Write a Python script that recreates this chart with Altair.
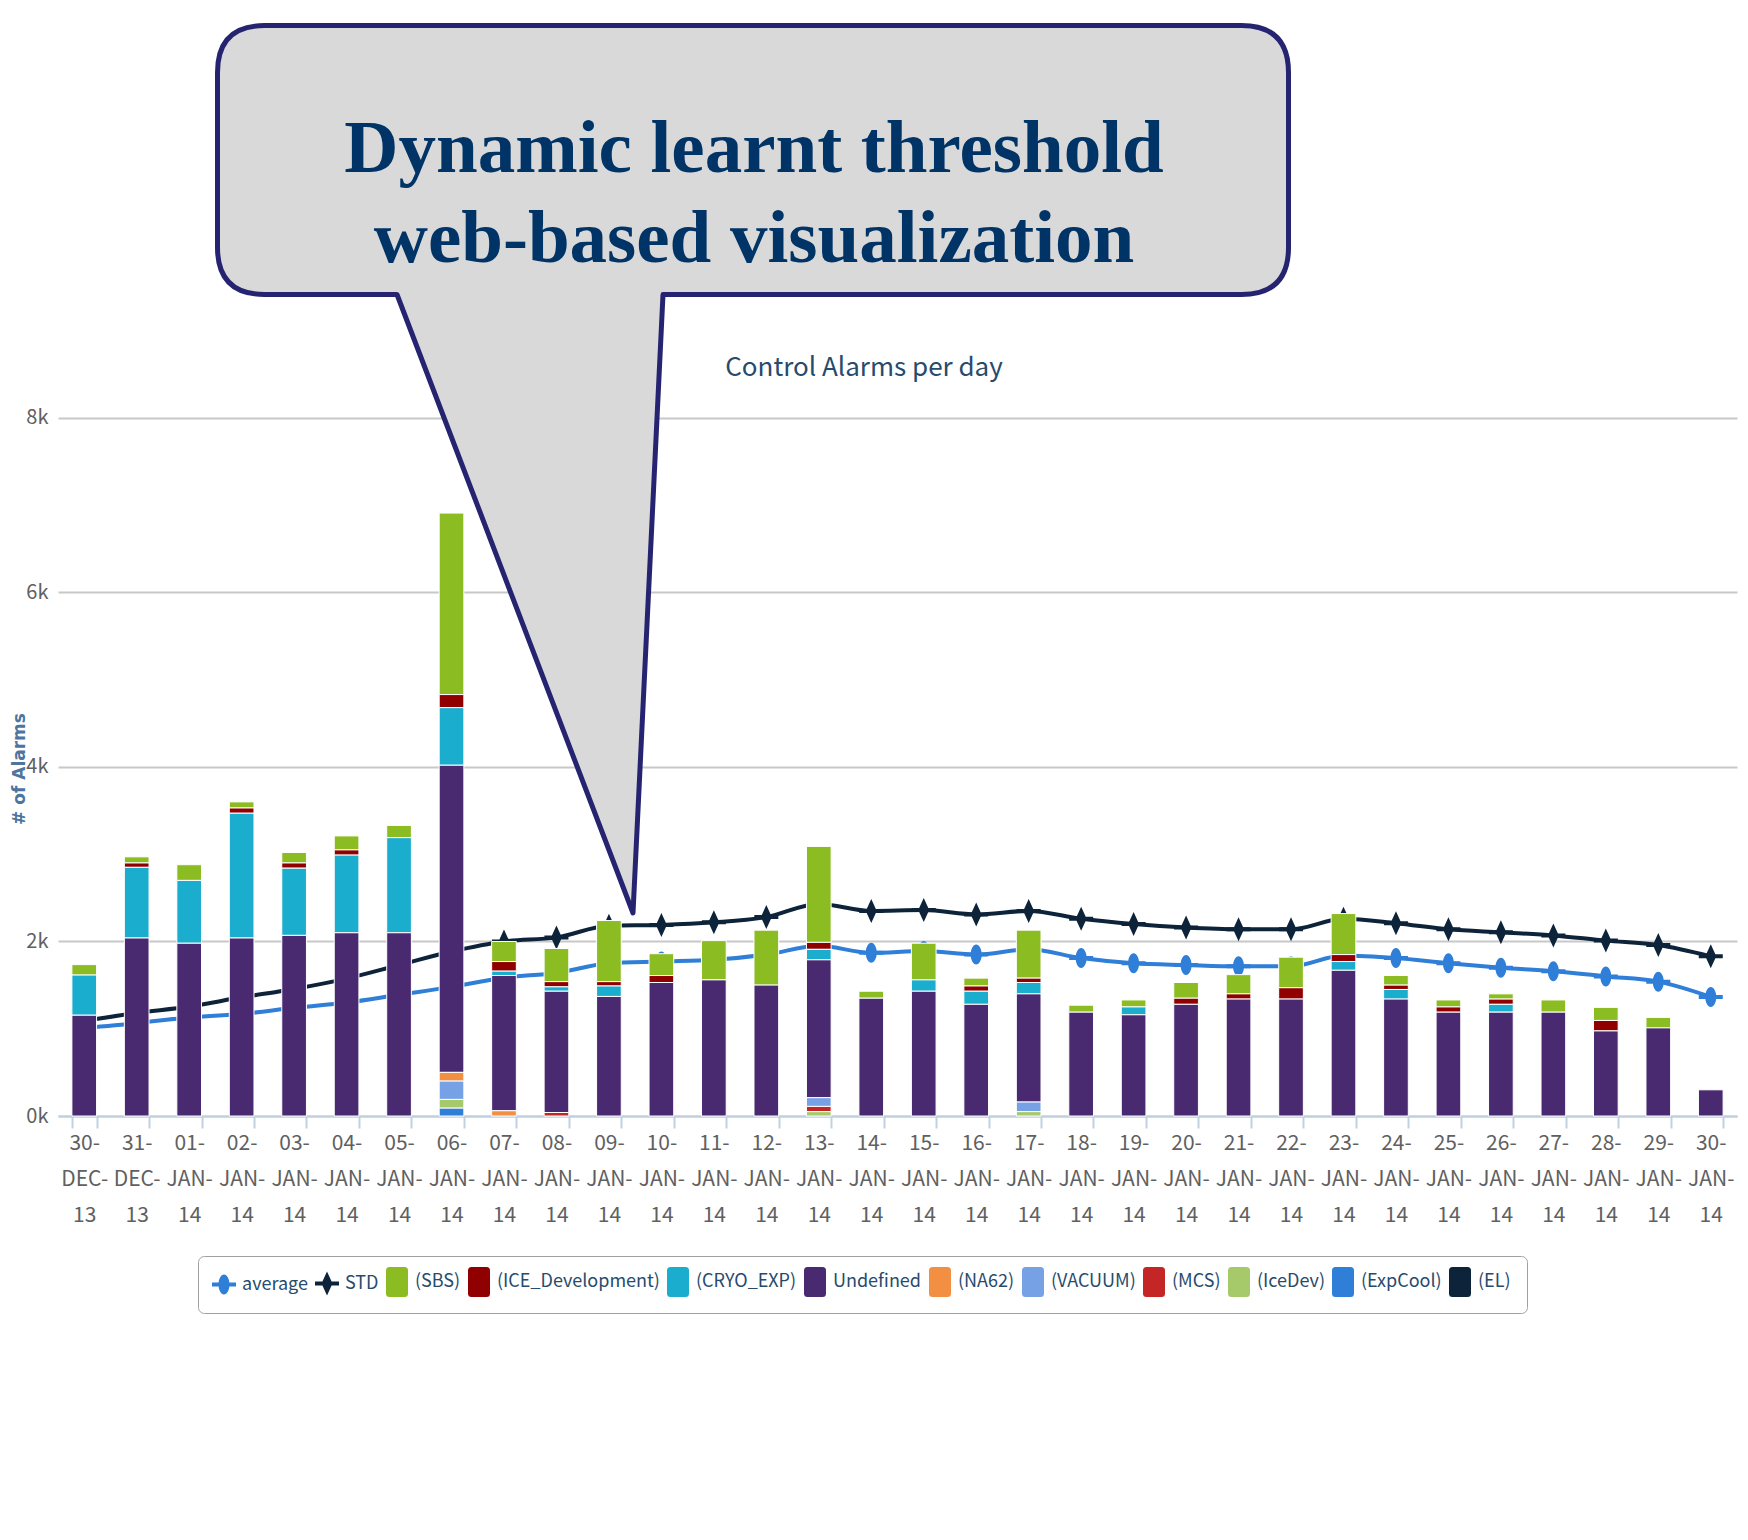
import altair as alt
import pandas as pd

# ---------------- data ----------------
categories = ["30-DEC-13", "31-DEC-13", "01-JAN-14", "02-JAN-14", "03-JAN-14", "04-JAN-14",
              "05-JAN-14", "06-JAN-14", "07-JAN-14", "08-JAN-14", "09-JAN-14", "10-JAN-14",
              "11-JAN-14", "12-JAN-14", "13-JAN-14", "14-JAN-14", "15-JAN-14", "16-JAN-14",
              "17-JAN-14", "18-JAN-14", "19-JAN-14", "20-JAN-14", "21-JAN-14", "22-JAN-14",
              "23-JAN-14", "24-JAN-14", "25-JAN-14", "26-JAN-14", "27-JAN-14", "28-JAN-14",
              "29-JAN-14", "30-JAN-14"]

sbs = [120, 70, 180, 70, 120, 160, 140, 2080, 230, 380, 700, 250, 450, 630, 1100, 80,
       420, 90, 550, 80, 80, 180, 220, 350, 470, 110, 80, 60, 140, 150, 120, 0]
ice_dev = [0, 50, 0, 60, 60, 60, 0, 150, 110, 60, 50, 80, 0, 0, 80, 0,
           0, 60, 50, 0, 0, 70, 60, 130, 80, 50, 60, 60, 0, 120, 0, 0]
cryo = [460, 810, 720, 1430, 770, 890, 1090, 660, 50, 50, 120, 0, 0, 0, 120, 0,
        130, 150, 130, 0, 90, 0, 0, 0, 100, 110, 0, 90, 0, 0, 0, 0]
undefined = [1155, 2040, 1980, 2040, 2070, 2100, 2100, 3520, 1550, 1390, 1370, 1530, 1560, 1500, 1580, 1350,
             1430, 1280, 1240, 1190, 1160, 1280, 1340, 1340, 1670, 1340, 1190, 1190, 1190, 975, 1010, 300]
na62 = [0, 0, 0, 0, 0, 0, 0, 100, 60, 0, 0, 0, 0, 0, 0, 0,
        0, 0, 0, 0, 0, 0, 0, 0, 0, 0, 0, 0, 0, 0, 0, 0]
vacuum = [0, 0, 0, 0, 0, 0, 0, 210, 0, 0, 0, 0, 0, 0, 100, 0,
          0, 0, 110, 0, 0, 0, 0, 0, 0, 0, 0, 0, 0, 0, 0, 0]
mcs = [0, 0, 0, 0, 0, 0, 0, 0, 0, 40, 0, 0, 0, 0, 60, 0,
       0, 0, 0, 0, 0, 0, 0, 0, 0, 0, 0, 0, 0, 0, 0, 0]
icedev = [0, 0, 0, 0, 0, 0, 0, 100, 0, 0, 0, 0, 0, 0, 50, 0,
          0, 0, 50, 0, 0, 0, 0, 0, 0, 0, 0, 0, 0, 0, 0, 0]
expcool = [0, 0, 0, 0, 0, 0, 0, 90, 0, 0, 0, 0, 0, 0, 0, 0,
           0, 0, 0, 0, 0, 0, 0, 0, 0, 0, 0, 0, 0, 0, 0, 0]
el = [0] * 32

average = [1010, 1064, 1130, 1170, 1240, 1300, 1390, 1480, 1585, 1640, 1750, 1770, 1790, 1850, 1950, 1870,
           1890, 1850, 1910, 1810, 1750, 1730, 1715, 1715, 1840, 1810, 1750, 1700, 1660, 1600, 1540, 1365]
std = [1090, 1180, 1255, 1360, 1456, 1575, 1730, 1885, 2000, 2047, 2180, 2190, 2220, 2280, 2430, 2350,
       2360, 2310, 2350, 2260, 2200, 2160, 2140, 2140, 2260, 2210, 2140, 2105, 2070, 2010, 1960, 1830]

legend_names = ["average", "STD", "(SBS)", "(ICE_Development)", "(CRYO_EXP)", "Undefined", "(NA62)",
                "(VACUUM)", "(MCS)", "(IceDev)", "(ExpCool)", "(EL)"]
legend_colors = ["#2f7ed8", "#0d233a", "#8bbc21", "#910000", "#1aadce", "#492970", "#f28f43",
                 "#77a1e5", "#c42525", "#a6c96a", "#2f7ed8", "#0d233a"]
y_ticks = [0, 2000, 4000, 6000, 8000]

# --------------- build tables ---------------
bar_series = [("(SBS)", sbs), ("(ICE_Development)", ice_dev), ("(CRYO_EXP)", cryo),
              ("Undefined", undefined), ("(NA62)", na62), ("(VACUUM)", vacuum), ("(MCS)", mcs),
              ("(IceDev)", icedev), ("(ExpCool)", expcool), ("(EL)", el)]
rows = []
n_bar = len(bar_series)
for k, (name, vals) in enumerate(bar_series):
    for d, v in zip(categories, vals):
        if v > 0:
            rows.append({"date": d, "series": name, "value": v, "stack": n_bar - k})
bars_df = pd.DataFrame(rows)

line_rows = []
for name, vals in [("average", average), ("STD", std)]:
    for d, v in zip(categories, vals):
        line_rows.append({"date": d, "series": name, "value": v})
lines_df = pd.DataFrame(line_rows)

# --------------- styling ---------------
NARROW = "Noto Sans CJK SC"
PLOT_W, PLOT_H = 1679, 1100
Y_MAX = 12607

bar_sym = ("M-0.75,-1.5L0.75,-1.5Q1.1,-1.5 1.1,-1.15L1.1,1.15Q1.1,1.5 0.75,1.5"
           "L-0.75,1.5Q-1.1,1.5 -1.1,1.15L-1.1,-1.15Q-1.1,-1.5 -0.75,-1.5Z")
hbar = "M-1.2,-0.2L1.2,-0.2L1.2,0.2L-1.2,0.2Z"
avg_sym = hbar + "M0,-1A0.55,1 0 1,1 0,1A0.55,1 0 1,1 0,-1Z"
std_sym = hbar + "M0,-1.2L0.55,0L0,1.2L-0.55,0Z"
legend_shapes = [avg_sym, std_sym] + [bar_sym] * 10

x_scale = alt.Scale(paddingInner=0.53, paddingOuter=0.265)
x_axis = alt.Axis(title=None, labelAngle=0, labelFont=NARROW, labelFontSize=21, labelColor="#606060",
                  labelLineHeight=36, tickBand="extent", tickSize=12, tickColor="#C0D0E0", tickWidth=2,
                  domainColor="#C0D0E0", domainWidth=2, labelPadding=4, grid=False, labelOverlap=False,
                  labelExpr="indexof(datum.label + '', '-') > 0 ? [split(datum.label,'-')[0] + '-', "
                            "split(datum.label,'-')[1] + '-', split(datum.label,'-')[2]] : ''")
y_scale = alt.Scale(domain=[0, Y_MAX], nice=False, zero=True)
y_axis = alt.Axis(title=None, values=y_ticks, labelExpr="datum.value / 1000 + 'k'", labelFont=NARROW,
                  labelFontSize=20, labelColor="#606060", ticks=False, domain=False, labelPadding=10,
                  grid=True, gridColor="#c8c8c8", gridWidth=2)

legend = alt.Legend(title=None, orient="none", legendX=140, legendY=1240, direction="horizontal",
                    columns=12, symbolSize=400, symbolStrokeWidth=0, symbolOpacity=1,
                    labelFont=NARROW, labelFontSize=18, labelColor="#274b6d", labelOffset=8,
                    columnPadding=7, padding=16, fillColor="white", strokeColor="#a0a0a0",
                    cornerRadius=6, labelLimit=0)
color_enc = alt.Color("series:N", scale=alt.Scale(domain=legend_names, range=legend_colors), legend=legend)
shape_enc = alt.Shape("series:N", scale=alt.Scale(domain=legend_names, range=legend_shapes), legend=legend)

X = alt.X("date:N", sort=categories, scale=x_scale, axis=x_axis)
Y = alt.Y("value:Q", scale=y_scale, axis=y_axis)

base_lines = alt.Chart(lines_df)
avg_line = base_lines.transform_filter(alt.datum.series == "average").mark_line(
    interpolate="monotone", strokeWidth=4, color="#2f7ed8").encode(x=X, y=Y)
std_line = base_lines.transform_filter(alt.datum.series == "STD").mark_line(
    interpolate="monotone", strokeWidth=4, color="#0d233a").encode(x=X, y=Y)
markers = base_lines.mark_point(filled=True, size=400, opacity=1, strokeWidth=0).encode(
    x=X, y=Y, color=color_enc, shape=shape_enc)

bars = alt.Chart(bars_df).mark_bar(stroke="white", strokeWidth=1).encode(
    x=X, y=alt.Y("value:Q", stack="zero", scale=y_scale, axis=y_axis),
    color=color_enc, order=alt.Order("stack:Q", sort="ascending"))

# --------------- annotation callout ---------------
one = pd.DataFrame({"k": [0]})
bx_l, bx_t, bx_r, bx_b, rad = 159.5, 9.5, 1230.5, 278.5, 47
tail_l, tail_r, tip_x, tip_y = 339, 605, 575, 897
callout_path = (
    f"M{bx_l + rad},{bx_t}L{bx_r - rad},{bx_t}Q{bx_r},{bx_t} {bx_r},{bx_t + rad}"
    f"L{bx_r},{bx_b - rad}Q{bx_r},{bx_b} {bx_r - rad},{bx_b}"
    f"L{tail_r},{bx_b}L{tip_x},{tip_y}L{tail_l},{bx_b}"
    f"L{bx_l + rad},{bx_b}Q{bx_l},{bx_b} {bx_l},{bx_b - rad}"
    f"L{bx_l},{bx_t + rad}Q{bx_l},{bx_t} {bx_l + rad},{bx_t}Z"
)
callout = alt.Chart(one).mark_point(
    shape=callout_path, size=4, filled=True, fill="#d9d9d9", stroke="#262470",
    strokeWidth=5, strokeJoin="round", opacity=1, fillOpacity=1, strokeOpacity=1
).encode(x=alt.value(0), y=alt.value(0))

callout_l1 = alt.Chart(one).mark_text(
    text="Dynamic learnt threshold", font="Liberation Serif", fontWeight="bold", fontSize=75,
    color="#003366", align="center", baseline="alphabetic").encode(x=alt.value(696), y=alt.value(156))
callout_l2 = alt.Chart(one).mark_text(
    text="web-based visualization", font="Liberation Serif", fontWeight="bold", fontSize=75,
    color="#003366", align="center", baseline="alphabetic").encode(x=alt.value(696), y=alt.value(246))

title_txt = alt.Chart(one).mark_text(
    text="Control Alarms per day", font=NARROW, fontSize=26, color="#274b6d",
    align="center", baseline="alphabetic").encode(x=alt.value(806), y=alt.value(360))
ytitle = alt.Chart(one).mark_text(
    text="# of Alarms", font="DejaVu Sans", fontWeight="bold", fontSize=17, color="#4d759e",
    align="center", baseline="middle", angle=270).encode(x=alt.value(-38), y=alt.value(753))

chart = alt.layer(avg_line, std_line, markers, bars, callout, callout_l1, callout_l2, title_txt, ytitle).properties(
    width=PLOT_W, height=PLOT_H,
    autosize=alt.AutoSizeParams(type="none"),
    padding={"left": 50, "top": 8, "right": 3, "bottom": 400},
    background="white",
).configure_view(stroke=None)

chart.save("out.html", embed_options={"renderer": "svg", "actions": False})
